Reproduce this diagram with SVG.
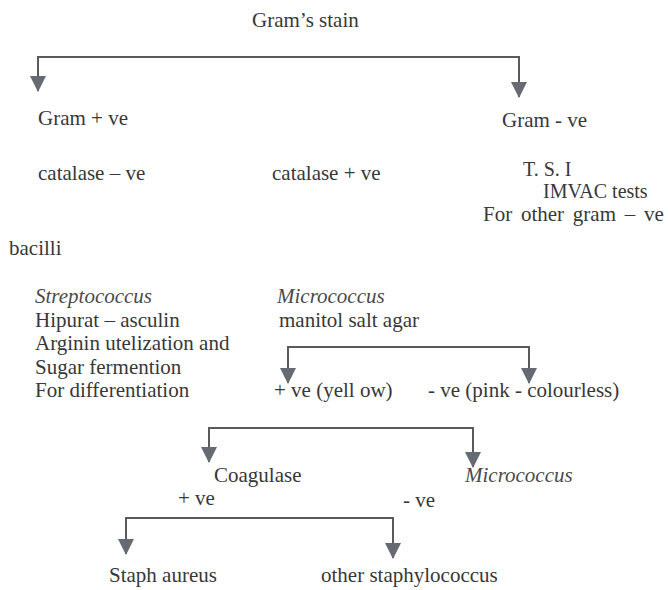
<svg xmlns="http://www.w3.org/2000/svg" width="668" height="590" viewBox="0 0 668 590">
  <style>
    text { font-family: "Liberation Serif", "Times New Roman", serif; font-size: 21px; fill: #383838; }
    .it { font-style: italic; fill: #4a4a4a; }
    .sm { font-size: 20px; }
    .conn { fill: none; stroke: #5a5a5a; stroke-width: 2; }
  </style>
  <defs>
    <marker id="ah" viewBox="0 0 16 16" refX="15" refY="8" markerWidth="16" markerHeight="16" markerUnits="userSpaceOnUse" orient="auto">
      <path d="M0,0 L16,8 L0,16 z" fill="#666a72"/>
    </marker>
  </defs>
  <rect width="668" height="590" fill="#ffffff"/>

  <g id="connectors">
    <path class="conn" d="M280,57 H38 V91" marker-end="url(#ah)"/>
    <path class="conn" d="M280,57 H519 V97" marker-end="url(#ah)"/>
    <path class="conn" d="M400,347 H288 V383" marker-end="url(#ah)"/>
    <path class="conn" d="M400,347 H529 V383" marker-end="url(#ah)"/>
    <path class="conn" d="M340,428 H209 V462" marker-end="url(#ah)"/>
    <path class="conn" d="M340,428 H473 V467" marker-end="url(#ah)"/>
    <path class="conn" d="M260,518 H126 V554" marker-end="url(#ah)"/>
    <path class="conn" d="M260,518 H393 V558" marker-end="url(#ah)"/>
  </g>

  <g id="gram-stain"><text x="252" y="27">Gram’s stain</text></g>
  <g id="gram-pos"><text x="38" y="125">Gram + ve</text></g>
  <g id="gram-neg"><text x="502" y="127">Gram - ve</text></g>
  <g id="catalase-neg"><text x="38" y="180">catalase – ve</text></g>
  <g id="catalase-pos"><text x="272" y="180">catalase + ve</text></g>
  <g id="tsi">
    <text class="sm" x="523" y="176">T. S. I</text>
    <text class="sm" x="543" y="198">IMVAC tests</text>
    <text x="483" y="221" word-spacing="3.5">For other gram – ve</text>
    <text x="9" y="255">bacilli</text>
  </g>
  <g id="streptococcus">
    <text class="it" x="35" y="303">Streptococcus</text>
    <text x="35" y="327">Hipurat – asculin</text>
    <text x="35" y="350">Arginin utelization and</text>
    <text x="35" y="374">Sugar fermention</text>
    <text x="35" y="397">For differentiation</text>
  </g>
  <g id="micrococcus-msa">
    <text class="it" x="277" y="303">Micrococcus</text>
    <text x="279" y="327">manitol salt agar</text>
  </g>
  <g id="msa-pos"><text x="274" y="397">+ ve (yell ow)</text></g>
  <g id="msa-neg"><text x="428" y="397">- ve (pink - colourless)</text></g>
  <g id="coagulase"><text x="214" y="482">Coagulase</text></g>
  <g id="micrococcus"><text class="it" x="465" y="482">Micrococcus</text></g>
  <g id="coag-pos"><text x="178" y="505">+ ve</text></g>
  <g id="coag-neg"><text x="403" y="507">- ve</text></g>
  <g id="staph-aureus"><text x="109" y="582">Staph aureus</text></g>
  <g id="other-staph"><text x="321" y="582">other staphylococcus</text></g>
</svg>
